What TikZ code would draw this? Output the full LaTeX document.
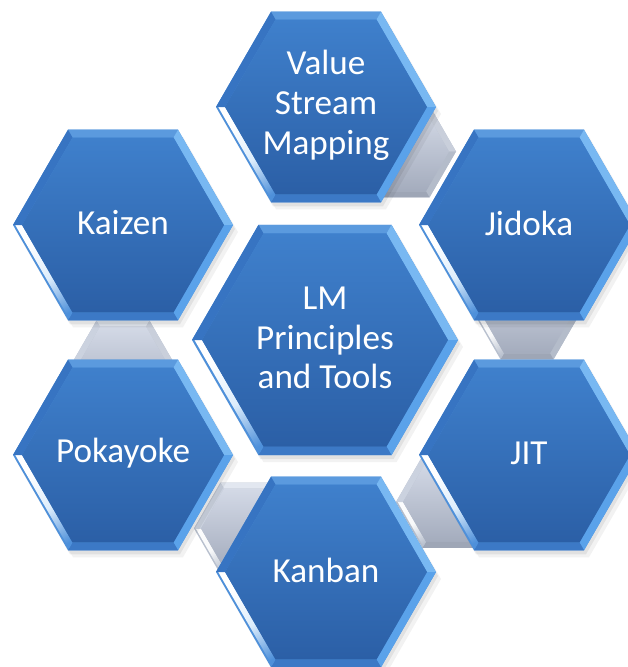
\documentclass[tikz,border=0pt]{standalone}
\usepackage{fontspec}
\setmainfont{Carlito}
% blue tiles
\definecolor{bodyTop}{HTML}{3F80CC}
\definecolor{bodyBot}{HTML}{2B5FA6}
\definecolor{bevTop}{HTML}{5B9ADE}
\definecolor{bevUR}{HTML}{78B8F2}
\definecolor{bevLR}{HTML}{5AA2EA}
\definecolor{bevBot}{HTML}{3C79C6}
\definecolor{bevUL}{HTML}{3774C2}
\definecolor{bevLL}{HTML}{4E90DA}
% grey links
\definecolor{greyTop}{HTML}{D3D9E6}
\definecolor{greyBot}{HTML}{A4ACBD}
\definecolor{gbevTop}{HTML}{E2E7F0}
\definecolor{gbevUR}{HTML}{C9CFDB}
\definecolor{gbevLR}{HTML}{B4BCCA}
\definecolor{gbevBot}{HTML}{9EA6B6}
\definecolor{gbevUL}{HTML}{CBD2DF}
\definecolor{gbevLL}{HTML}{B8C0CE}
\pgfdeclarehorizontalshading{glint}{100bp}{color(0bp)=(white); color(30bp)=(white); color(55bp)=(white!75!bevUR); color(80bp)=(bevLL); color(100bp)=(bevLL)}
\pgfdeclarehorizontalshading{gglint}{100bp}{color(0bp)=(white); color(50bp)=(white!90!gbevLL); color(80bp)=(gbevLL); color(100bp)=(gbevLL)}

% bevelled flat-topped hexagon around the current origin
% #1 radius, #2 bevel inset, #3 colour prefix (empty or g), #4 glint shading, #5/#6 body colours
\newcommand\bevelhex[6]{%
  \pgfmathsetmacro\ro{#1}\pgfmathsetmacro\ri{#1-#2}\pgfmathsetmacro\rm{#1-0.25*#2}%
  \fill[#3bevLL] (0:\ro)--(60:\ro)--(120:\ro)--(180:\ro)--(240:\ro)--(300:\ro)--cycle;
  \fill[#3bevTop] (240:\ro)--(300:\ro)--(300:\ri)--(240:\ri)--cycle;
  \fill[#3bevUR] (300:\ro)--(0:\ro)--(0:\ri)--(300:\ri)--cycle;
  \fill[#3bevLR] (0:\ro)--(60:\ro)--(60:\ri)--(0:\ri)--cycle;
  \fill[#3bevBot] (60:\ro)--(120:\ro)--(120:\ri)--(60:\ri)--cycle;
  \shade[shading=#4,shading angle=-60] (180:\rm)--(120:\rm)--(120:\ri)--(180:\ri)--cycle;
  \fill[#3bevUL] (180:\ro)--(240:\ro)--(240:\ri)--(180:\ri)--cycle;
  \shade[top color=#5,bottom color=#6] (0:\ri)--(60:\ri)--(120:\ri)--(180:\ri)--(240:\ri)--(300:\ri)--cycle;
}
% soft drop shadow under a hexagon of radius #1
\newcommand\hexshadow[1]{%
  \fill[black,opacity=.05,shift={(5,7)}] (0:#1)--(60:#1)--(120:#1)--(180:#1)--(240:#1)--(300:#1)--cycle;
  \fill[black,opacity=.07,shift={(2,4)}] (0:#1)--(60:#1)--(120:#1)--(180:#1)--(240:#1)--(300:#1)--cycle;
}

\begin{document}
\begin{tikzpicture}[x=0.03cm,y=-0.03cm,
  hextext/.style={text=white,align=center,font=\fontsize{30}{34}\selectfont,inner sep=0pt}]
\useasboundingbox (0,0) rectangle (628,667);
\clip (0,0) rectangle (628,667);

% grey links between neighbouring tiles
\foreach \gx/\gy in {403/151.5, 527/313.5, 449/502, 247/528.5, 123/366.5}{
  \begin{scope}[shift={(\gx,\gy)}]
    \bevelhex{53}{7}{g}{gglint}{greyTop}{greyBot}
  \end{scope}
}

% outer tiles
\foreach \cx/\cy/\nm/\txt in {326/107/vsm/{Value\\Stream\\Mapping},
                            529/225/jidoka/Jidoka,
                            529/455/jit/JIT,
                            326/572/kanban/Kanban,
                            123/455/pokayoke/Pokayoke,
                            123/225/kaizen/Kaizen}{
  \begin{scope}[shift={(\cx,\cy)}]
    \hexshadow{110}
    \bevelhex{110}{9}{}{glint}{bodyTop}{bodyBot}
    \node[hextext] (\nm) at (0,-2) {\txt};
  \end{scope}
}

% central tile
\begin{scope}[shift={(325,340)}]
  \hexshadow{133}
  \bevelhex{133}{10}{}{glint}{bodyTop}{bodyBot}
  \node[hextext] (lm) at (0,-2) {LM\\Principles\\and Tools};
\end{scope}
\end{tikzpicture}
\end{document}
